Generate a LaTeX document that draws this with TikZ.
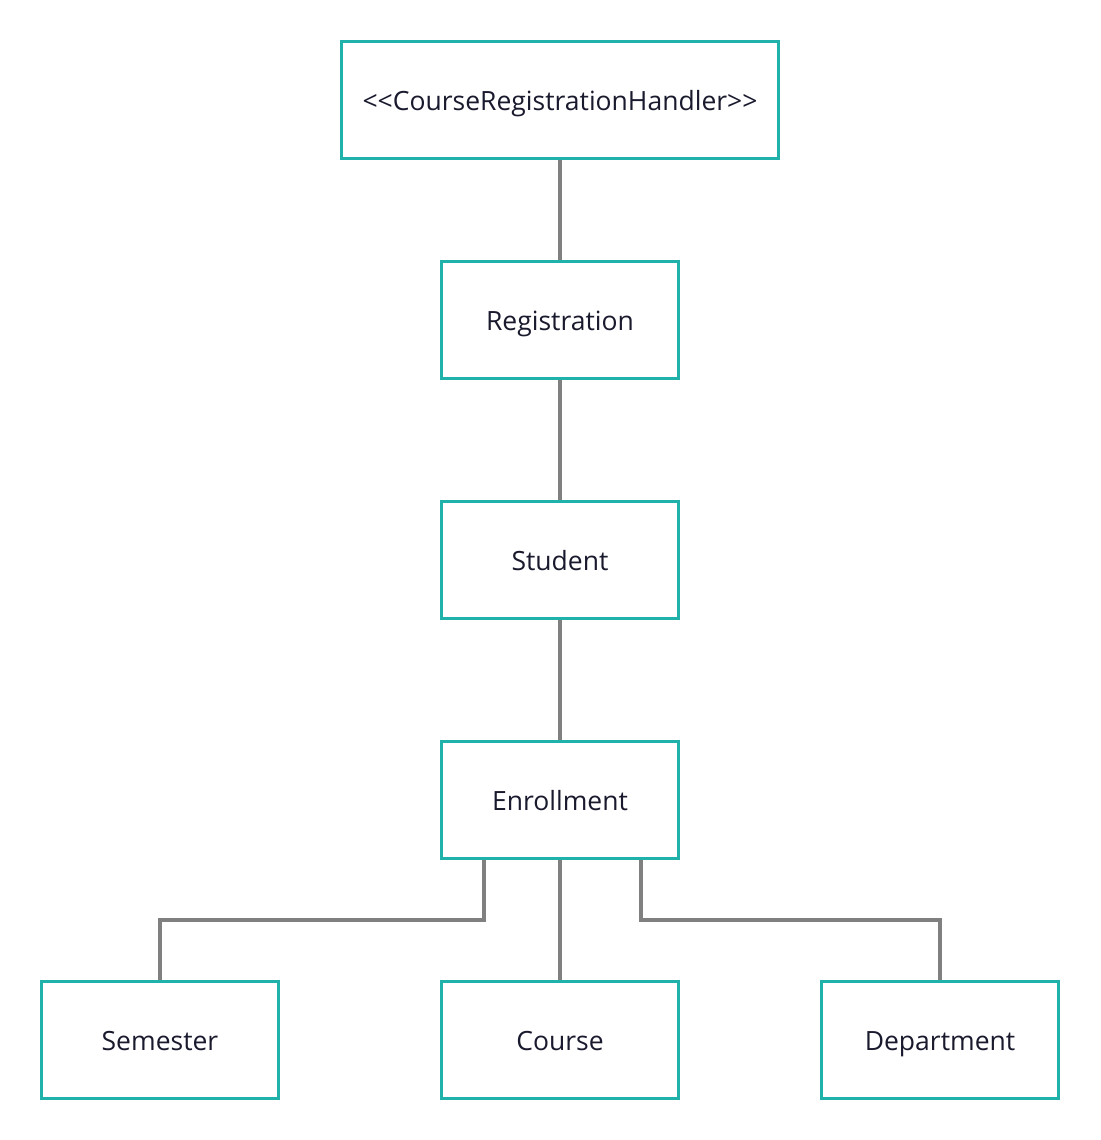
\documentclass[tikz,border=0pt]{standalone}
\usepackage{fontspec}
\setmainfont{Open Sans}
\definecolor{teal1}{HTML}{20B2AA}
\definecolor{conn}{HTML}{808080}
\definecolor{txt}{HTML}{1A1A2E}
\begin{document}
\begin{tikzpicture}[x=1pt,y=-1pt,
  cls/.style={draw=teal1, line width=3.5pt, fill=white, minimum height=117pt, inner sep=0pt,
    text=txt, font=\fontsize{26.5}{30}\selectfont, text height=23pt, text depth=2pt},
  narrow/.style={cls, minimum width=237pt},
  wide/.style={cls, minimum width=437pt},
  link/.style={draw=conn, line width=3.5pt}]
\useasboundingbox (0,0) rectangle (1100,1140);
\node[wide]   (hdl) at (560,100)  {{<}{<}CourseRegistrationHandler{>}{>}};
\node[narrow] (reg) at (560,320)  {Registration};
\node[narrow] (stu) at (560,560)  {Student};
\node[narrow] (enr) at (560,800)  {Enrollment};
\node[narrow] (sem) at (160,1040) {Semester};
\node[narrow] (crs) at (560,1040) {Course};
\node[narrow] (dep) at (940,1040) {Department};
\draw[link] (hdl.south) -- (reg.north);
\draw[link] (reg.south) -- (stu.north);
\draw[link] (stu.south) -- (enr.north);
\draw[link] (enr.south) -- (crs.north);
\draw[link] ([xshift=-76pt]enr.south) |- ([yshift=60pt]sem.north) -- (sem.north);
\draw[link] ([xshift=81pt]enr.south) |- ([yshift=60pt]dep.north) -- (dep.north);
\end{tikzpicture}
\end{document}
